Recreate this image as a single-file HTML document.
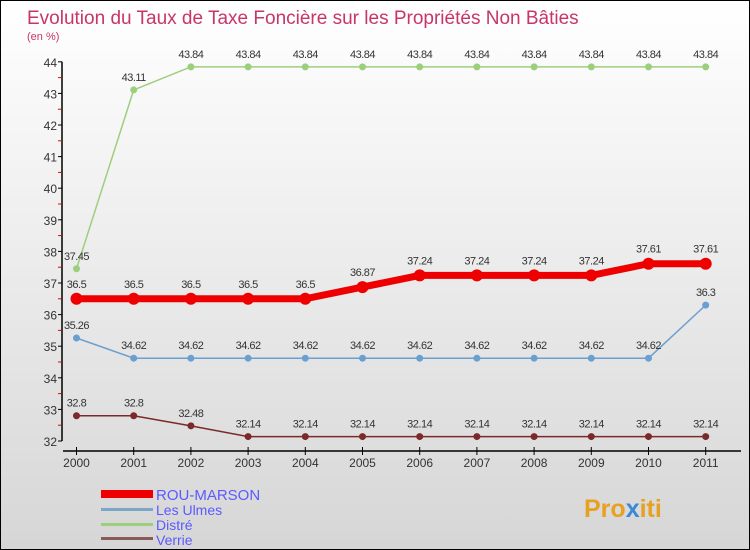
<!DOCTYPE html>
<html><head><meta charset="utf-8"><style>
body{margin:0}
#wrap{position:relative;width:748px;height:548px;border:1px solid #000;background:linear-gradient(#ffffff 0%,#f3f3f3 30%,#d6d6d6 100%);font-family:"Liberation Sans",sans-serif;overflow:hidden}
svg text{font-family:"Liberation Sans",sans-serif}
</style></head><body>
<div id="wrap">
<svg id="svg" width="748" height="548">
<text x="26" y="23" font-size="19" fill="#c8356a">Evolution du Taux de Taxe Foncière sur les Propriétés Non Bâties</text>
<text x="26" y="39" font-size="11" fill="#c8356a">(en %)</text>
<g id="axes"></g><g id="series"></g>
<g>
<rect x="100" y="489" width="52" height="8" fill="#e00"/>
<text x="155" y="499" font-size="15" fill="#5a5aff">ROU-MARSON</text>
<rect x="100" y="507" width="52" height="3" fill="#7aa6c8"/>
<text x="155" y="514" font-size="14" fill="#5a5aff">Les Ulmes</text>
<rect x="100" y="522" width="52" height="3" fill="#9ccf7c"/>
<text x="155" y="529" font-size="14" fill="#5a5aff">Distré</text>
<rect x="100" y="536" width="52" height="3" fill="#8c5a5a"/>
<text x="155" y="544" font-size="14" fill="#5a5aff">Verrie</text>
</g>
<text x="583" y="516" font-size="25" font-weight="bold" fill="#e8a020">Pro<tspan fill="#3a8ad8">x</tspan>iti</text>
</svg></div>
<script>
const years=[2000,2001,2002,2003,2004,2005,2006,2007,2008,2009,2010,2011];
const rou=[36.5,36.5,36.5,36.5,36.5,36.87,37.24,37.24,37.24,37.24,37.61,37.61];
const ulmes=[35.26,34.62,34.62,34.62,34.62,34.62,34.62,34.62,34.62,34.62,34.62,36.3];
const distre=[37.45,43.11,43.84,43.84,43.84,43.84,43.84,43.84,43.84,43.84,43.84,43.84];
const verrie=[32.8,32.8,32.48,32.14,32.14,32.14,32.14,32.14,32.14,32.14,32.14,32.14];
const yTicks=[32,33,34,35,36,37,38,39,40,41,42,43,44];
const NS="http://www.w3.org/2000/svg";
function X(i){return 75.5+i*57.2;}
function Y(v){return 440-(v-32)*31.6;}
function mk(tag,attrs,parent,text){const e=document.createElementNS(NS,tag);for(const k in attrs)e.setAttribute(k,attrs[k]);if(text!==undefined)e.textContent=text;parent.appendChild(e);return e;}
const ax=document.getElementById('axes');
let a=mk('line',{x1:61,y1:Y(44),x2:61,y2:Y(32),stroke:'#000','stroke-width':1.5},ax);


yTicks.forEach(t=>{
 mk('line',{x1:57,x2:61,y1:Y(t),y2:Y(t),stroke:'#000'},ax);
 if(t<44)mk('line',{x1:57,x2:60,y1:Y(t+0.5),y2:Y(t+0.5),stroke:'#e00'},ax);
 const l=mk('text',{x:56,y:Y(t)+5,'font-size':12,'text-anchor':'end',fill:'#333'},ax,String(t));
 
 
});
a=mk('line',{x1:62,y1:450,x2:740,y2:450,stroke:'#000','stroke-width':1.5},ax);


years.forEach((y,i)=>{
 mk('line',{x1:X(i),x2:X(i),y1:446,y2:454,stroke:'#000'},ax);
 const l=mk('text',{x:X(i),y:466,'font-size':12,'text-anchor':'middle',fill:'#333'},ax,String(y));
 
 
});
const sg=document.getElementById('series');
function series(name,vals,color,w,r,labOff){
 const g=mk('g',{},sg);
 
 
 const p=mk('polyline',{points:vals.map((v,i)=>X(i)+','+Y(v)).join(' '),fill:'none',stroke:color,'stroke-width':w},g);
 
 
 vals.forEach((v,i)=>{
  const c=mk('circle',{cx:X(i),cy:Y(v),r:r,fill:color},g);
  
  
  const t=mk('text',{x:X(i),y:Y(v)-labOff,'font-size':11,'text-anchor':'middle',fill:'#333','letter-spacing':'-0.5'},g,String(v));
  
  
 });
}
series('distre',distre,'#9ccf7c',1.5,3.5,9);
series('les-ulmes',ulmes,'#6aa0d0',1.5,3.5,9);
series('verrie',verrie,'#7a2a2a',1.5,3.5,9);
series('rou-marson',rou,'#e00',7,6,11);
</script>
</body></html>
